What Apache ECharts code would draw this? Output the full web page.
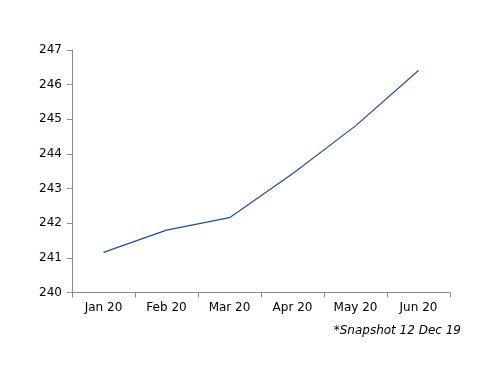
<!DOCTYPE html>
<html><head><meta charset="utf-8">
<script src="https://cdn.jsdelivr.net/npm/echarts@6/dist/echarts.min.js"></script>
<style>html,body{margin:0;padding:0;background:#fff}#c{width:500px;height:386px}</style>
</head><body><div id="c"></div>
<script>
var categories = ['Jan 20','Feb 20','Mar 20','Apr 20','May 20','Jun 20'];
var values = [241.16, 241.80, 242.16, 243.43, 244.81, 246.41];
var yTicks = [240, 241, 242, 243, 244, 245, 246, 247];
var note = '*Snapshot 12 Dec 19';

var chart = echarts.init(document.getElementById('c'));
chart.setOption({
  animation: false,
  grid: {left: 72, right: 50, top: 50, bottom: 93.5},
  xAxis: {
    type: 'category', data: categories, boundaryGap: true,
    axisLine: {lineStyle: {color: '#8c8c8c', width: 1}},
    axisTick: {show: true, length: 5, inside: false, lineStyle: {color: '#8c8c8c'}},
    axisLabel: {color: '#000', fontFamily: 'DejaVu Sans', fontSize: 12, margin: 9}
  },
  yAxis: {
    type: 'value', min: yTicks[0], max: yTicks[yTicks.length-1], interval: 1,
    splitLine: {show: false},
    axisLine: {show: true, lineStyle: {color: '#8c8c8c', width: 1}},
    axisTick: {show: true, length: 5, lineStyle: {color: '#8c8c8c'}},
    axisLabel: {color: '#000', fontFamily: 'DejaVu Sans', fontSize: 12, margin: 10}
  },
  series: [{
    type: 'line', data: values, symbol: 'none',
    lineStyle: {color: '#1f4e9e', width: 1.2}
  }],
  graphic: [{
    type: 'text', right: 39, top: 325,
    style: {text: note, font: 'italic 12px "DejaVu Sans"', fill: '#000', textAlign: 'right'}
  }]
});
</script></body></html>
